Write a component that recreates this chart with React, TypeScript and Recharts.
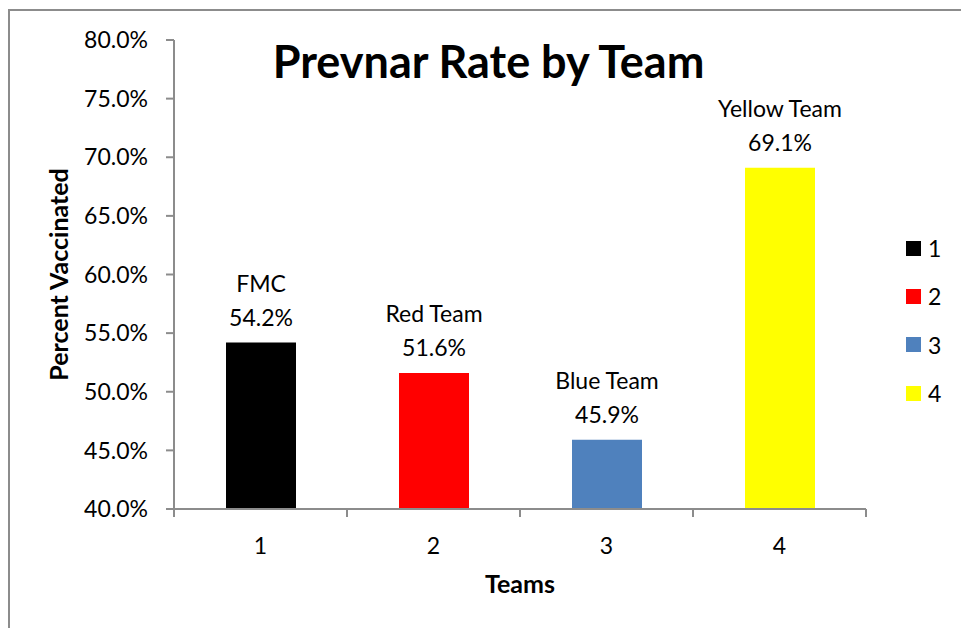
import { BarChart, Bar, XAxis, YAxis, Cell, LabelList, Label } from "recharts";

const teams = ["1", "2", "3", "4"];
const teamNames = ["FMC", "Red Team", "Blue Team", "Yellow Team"];
const rates = [54.2, 51.6, 45.9, 69.1];
const colors = ["#000000", "#FF0000", "#4F81BD", "#FFFF00"];
const yTicks = [40, 45, 50, 55, 60, 65, 70, 75, 80];

const data = teams.map((t, i) => ({ team: t, name: teamNames[i], rate: rates[i] }));

const font = "Lato, 'Open Sans', sans-serif";
const axisColor = "#8c8c8c";

function BarLabel(props: any) {
  const { x, y, width, index } = props;
  const cx = x + width / 2;
  return (
    <text x={cx} textAnchor="middle" fontFamily={font} fontSize={23} fill="#000">
      <tspan x={cx} y={y - 51}>{teamNames[index]}</tspan>
      <tspan x={cx} y={y - 17}>{rates[index].toFixed(1) + "%"}</tspan>
    </text>
  );
}

// Excel puts the category tick marks between the bars, not under them
function TeamTick(props: any) {
  const { x, y, payload, index } = props;
  const half = payload.offset ?? 0;
  return (
    <g>
      <line x1={x - half} x2={x - half} y1={y} y2={y + 8} stroke={axisColor} strokeWidth={2} />
      {index === teams.length - 1 && (
        <line x1={x + half} x2={x + half} y1={y} y2={y + 8} stroke={axisColor} strokeWidth={2} />
      )}
      <text x={x} y={y + 29} dy="0.71em" textAnchor="middle" fontFamily={font} fontSize={23} fill="#000">
        {payload.value}
      </text>
    </g>
  );
}

function TeamLegend() {
  return (
    <div style={{ position: "absolute", left: 906, top: 224, fontFamily: font, fontSize: 23 }}>
      {teams.map((t, i) => (
        <div key={t} style={{ display: "flex", alignItems: "center", height: 48.3 }}>
          <span style={{ width: 15, height: 15, background: colors[i], display: "inline-block" }} />
          <span style={{ marginLeft: 7 }}>{t}</span>
        </div>
      ))}
    </div>
  );
}

export default function App() {
  return (
    <div style={{ position: "fixed", left: 0, top: 0, width: 961, height: 628, background: "#fff", overflow: "hidden" }}>
      <div
        style={{
          position: "absolute",
          left: 8,
          top: 9,
          width: 1000,
          height: 700,
          border: `2px solid ${axisColor}`,
        }}
      />
      <BarChart
        width={961}
        height={628}
        data={data}
        margin={{ top: 40, right: 95, bottom: 19, left: 74 }}
        style={{ position: "absolute", left: 0, top: 0 }}
      >
        <XAxis
          dataKey="team"
          height={100}
          tickSize={0}
          tickLine={false}
          tickMargin={0}
          stroke={axisColor}
          strokeWidth={2}
          tick={TeamTick}
        >
          <Label
            content={(p: any) => (
              <text
                x={p.viewBox.x + p.viewBox.width / 2}
                y={593}
                textAnchor="middle"
                fontFamily={font}
                fontWeight={700}
                fontSize={25}
              >
                Teams
              </text>
            )}
          />
        </XAxis>
        <YAxis
          width={100}
          domain={[40, 80]}
          ticks={yTicks}
          tickSize={8}
          tickMargin={18}
          stroke={axisColor}
          strokeWidth={2}
          tickFormatter={(v: number) => v.toFixed(1) + "%"}
          tick={{ fill: "#000", fontFamily: font, fontSize: 23 }}
        >
          <Label
            content={(p: any) => {
              const cy = p.viewBox.y + p.viewBox.height / 2;
              return (
                <text
                  x={68}
                  y={cy}
                  transform={`rotate(-90 68 ${cy})`}
                  textAnchor="middle"
                  fontFamily={font}
                  fontWeight={700}
                  fontSize={25}
                >
                  Percent Vaccinated
                </text>
              );
            }}
          />
        </YAxis>
        <Bar dataKey="rate" barSize={70} isAnimationActive={false}>
          {data.map((d, i) => (
            <Cell key={d.team} fill={colors[i]} />
          ))}
          <LabelList dataKey="rate" content={BarLabel} />
        </Bar>
      </BarChart>
      <div
        style={{
          position: "absolute",
          left: 0,
          width: 977,
          top: 34,
          textAlign: "center",
          fontFamily: font,
          fontWeight: 700,
          fontSize: 45,
        }}
      >
        Prevnar Rate by Team
      </div>
      <TeamLegend />
    </div>
  );
}
